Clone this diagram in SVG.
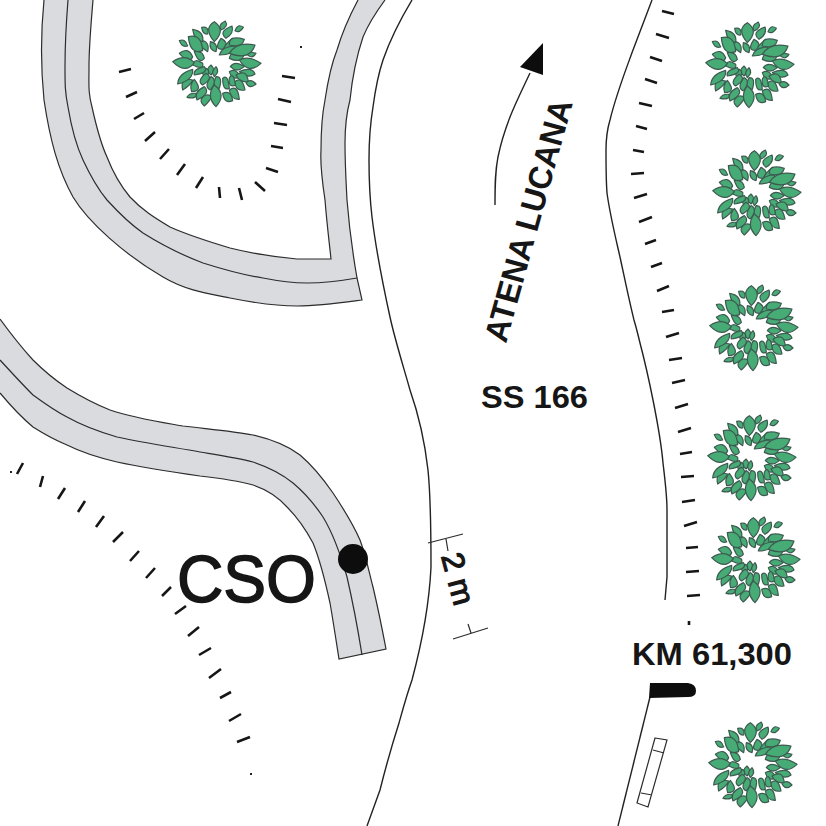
<svg xmlns="http://www.w3.org/2000/svg" xmlns:xlink="http://www.w3.org/1999/xlink" width="826" height="826" viewBox="0 0 826 826">
<style>
text{font-family:"Liberation Sans",Arial,sans-serif;fill:#161616}
.b{font-weight:bold}
.band{fill:#d9dbdf;stroke:none}
.e{fill:none;stroke:#2c2c2c;stroke-width:1.2}
.r{fill:none;stroke:#222;stroke-width:1.4}
.t{fill:none;stroke:#161616;stroke-width:2.6}
.lv path{fill:#47ab76;stroke:#3d5a50;stroke-width:3.6;stroke-linejoin:round}
</style>
<defs>
<g id="tree" class="lv" transform="scale(.3333) translate(-165,-165)">
<path d="M150,165Q166,180 150,195Q130,180 150,165Z"/>
<path d="M135,175Q151,180 135,205Q115,190 135,175Z"/>
<path d="M165,170Q177,185 160,200Q148,185 165,170Z"/>
<path d="M140,125Q112,108 115,90Q148,92 140,125Z"/>
<path d="M165,125Q143,120 148,95Q173,100 165,125Z"/>
<path d="M185,118Q157,118 180,85Q207,98 185,118Z"/>
<path d="M205,120Q170,122 215,85Q234,108 205,120Z"/>
<path d="M175,135Q182,109 222,108Q218,135 175,135Z"/>
<path d="M205,145Q213,113 250,130Q243,163 205,145Z"/>
<path d="M208,170Q221,150 250,170Q227,190 208,170Z"/>
<path d="M205,185Q222,172 240,200Q214,214 205,185Z"/>
<path d="M205,205Q215,181 225,225Q201,235 205,205Z"/>
<path d="M185,205Q201,190 205,235Q185,244 185,205Z"/>
<path d="M165,200Q186,199 175,235Q150,233 165,200Z"/>
<path d="M150,200Q171,210 148,240Q127,230 150,200Z"/>
<path d="M135,190Q160,203 125,225Q106,213 135,190Z"/>
<path d="M130,170Q145,188 100,195Q95,178 130,170Z"/>
<path d="M125,160Q130,182 95,165Q100,142 125,160Z"/>
<path d="M130,145Q115,165 100,125Q125,121 130,145Z"/>
<path d="M180,60Q170,44 193,33Q204,50 180,60Z"/>
<path d="M195,85Q170,64 213,48Q220,70 195,85Z"/>
<path d="M222,62Q230,39 247,52Q236,71 222,62Z"/>
<path d="M205,105Q203,74 250,88Q243,114 205,105Z"/>
<path d="M250,125Q263,123 285,130Q273,153 250,125Z"/>
<path d="M235,185Q272,168 282,192Q262,208 235,185Z"/>
<path d="M225,195Q257,175 262,215Q237,219 225,195Z"/>
<path d="M255,218Q270,204 285,222Q266,240 255,218Z"/>
<path d="M222,215Q243,197 252,240Q223,245 222,215Z"/>
<path d="M205,240Q230,220 235,268Q210,270 205,240Z"/>
<path d="M185,250Q210,239 215,272Q190,283 185,250Z"/>
<path d="M135,255Q168,253 130,288Q108,269 135,255Z"/>
<path d="M130,230Q151,250 108,270Q97,246 130,230Z"/>
<path d="M105,250Q109,268 78,262Q85,248 105,250Z"/>
<path d="M100,208Q128,244 92,245Q84,224 100,208Z"/>
<path d="M95,210Q90,225 65,240Q56,199 95,210Z"/>
<path d="M95,140Q85,165 55,130Q81,109 95,140Z"/>
<path d="M80,108Q63,114 55,92Q73,84 80,108Z"/>
<path d="M125,95Q100,94 95,58Q130,64 125,95Z"/>
<path d="M140,72Q125,74 122,52Q145,48 140,72Z"/>
<path d="M160,95Q126,55 160,35Q196,59 160,95Z"/>
<path d="M205,130Q227,93 282,105Q267,153 205,130Z"/>
<path d="M235,150Q263,135 300,160Q263,195 235,150Z"/>
<path d="M160,225Q198,253 165,290Q134,259 160,225Z"/>
<path d="M95,178Q98,210 50,222Q52,190 95,178Z"/>
<path d="M100,158Q73,194 35,155Q73,130 100,158Z"/>
<path d="M125,122Q87,135 82,80Q121,69 125,122Z"/>
</g>
</defs>
<rect width="826" height="826" fill="#fff"/>

<g id="roads">
<path class="band" d="M44,0C41,30 40,60 44,100C50,140 58,170 73,197C88,222 125,255 163,277C185,290 205,293 230,298C255,303 275,306 297,306C320,306 340,303 362,300L357,278C353,255 349,225 347,200C346,180 345,165 345,143C345,130 346,115 350,100C352,80 357,55 363,37C368,25 374,15 385,0L358,0C350,15 342,33 337,50C331,65 328,80 325,100C322,115 321,130 321,150C320,165 322,180 325,200C327,225 329,240 331,259L297,259C275,257 250,253 230,248C210,242 190,236 170,227C155,218 142,210 130,197C120,185 112,170 107,157C100,142 96,125 92,107C88,92 89,85 89,67C89,45 91,25 93,0Z"/>
<path class="e" d="M44,0C41,30 40,60 44,100C50,140 58,170 73,197C88,222 125,255 163,277C185,290 205,293 230,298C255,303 275,306 297,306C320,306 340,303 362,300L357,278C353,255 349,225 347,200C346,180 345,165 345,143C345,130 346,115 350,100C352,80 357,55 363,37C368,25 374,15 385,0"/>
<path class="e" d="M93,0C91,25 89,45 89,67C89,85 88,92 92,107C96,125 100,142 107,157C112,170 120,185 130,197C142,210 155,218 170,227C190,236 210,242 230,248C250,253 275,257 297,259L331,259C329,240 327,225 325,200C322,180 320,165 321,150C321,130 322,115 325,100C328,80 331,65 337,50C342,33 350,15 358,0"/>
<path class="e" d="M68,0C66,25 65,45 65,67C65,85 65,92 68,107C71,125 76,145 83,160C90,175 97,188 107,200C118,212 130,224 143,233C162,245 182,255 203,263C222,269 243,275 263,278C278,281 292,283 307,283C325,283 340,281 357,278"/>
<path class="band" d="M0,319C11,334 22,348 33,360C44,371 55,380 67,388C80,396 95,404 110,410C133,418 160,422 183,426C207,429 232,431 253,435C270,439 288,446 300,455C313,466 324,480 333,493C343,508 353,524 360,540C366,556 369,572 373,587C378,608 382,628 386,649L339,659C336,640 333,620 330,603C325,580 320,560 313,543C306,530 297,517 287,507C278,497 265,489 253,485C235,480 218,478 200,476C172,472 145,468 117,462C100,458 83,453 67,445C55,440 44,434 33,427C21,417 10,405 0,393Z"/>
<path class="e" d="M0,319C11,334 22,348 33,360C44,371 55,380 67,388C80,396 95,404 110,410C133,418 160,422 183,426C207,429 232,431 253,435C270,439 288,446 300,455C313,466 324,480 333,493C343,508 353,524 360,540C366,556 369,572 373,587C378,608 382,628 386,649L339,659C336,640 333,620 330,603C325,580 320,560 313,543C306,530 297,517 287,507C278,497 265,489 253,485C235,480 218,478 200,476C172,472 145,468 117,462C100,458 83,453 67,445C55,440 44,434 33,427C21,417 10,405 0,393"/>
<path class="e" d="M0,360C11,372 22,384 33,395C44,403 55,411 67,417C83,426 100,432 117,437C145,443 172,447 200,452C218,455 238,458 253,462C268,467 282,474 293,483C305,493 315,505 323,517C334,535 341,556 347,577C353,603 358,630 362,655"/>
<path class="r" d="M412,0C400,20 390,40 383,60C378,75 375,92 373,107C370,125 369,142 369,160C369,180 370,200 372,217C376,250 383,285 390,317C395,340 403,365 410,390C417,410 424,435 428,470C430,490 431,530 431,567C429,610 420,650 412,680C405,700 400,720 399,723C392,745 385,770 380,790L367,826"/>
<path class="r" d="M652,0C645,18 640,32 633,50C625,72 616,95 610,120C607,130 606,140 606,150C606,165 606,180 607,193C610,215 615,235 620,257C625,280 629,300 634,320C637,330 638,335 640,343C645,362 649,380 653,400C657,420 661,440 663,463C665,480 667,495 667,510L667,577L665,600"/>
<path class="r" d="M650,697L618,826"/>
</g>

<g id="kerb-ticks">
<path class="t" d="M119,72L131,69M126,97L137,92M134,119L144,113M145,141L155,132M160,159L169,149M177,175L185,164M196,188L203,177M220,198L219,187M242,200L239,188M265,191L255,182M278,172L266,168M283,148L271,146M287,125L274,123M291,102L278,99M295,78L282,76"/>
<path class="t" d="M17,474L23,463M40,487L43,476M58,499L65,488M78,512L85,501M96,527L104,516M113,542L123,532M130,561L139,551M146,578L155,568M162,596L171,587M175,614L186,606M188,636L199,627M199,655L211,648M209,678L221,669M220,698L231,692M229,721L241,714M237,742L250,737"/>
<path class="t" d="M662,11L674,14M656,34L669,38M650,57L662,61M645,79L657,83M639,103L652,106M636,126L647,129M633,150L644,152M631,174L644,173M634,198L647,194M639,222L652,217M645,244L656,240M651,267L662,263M657,291L669,286M662,312L674,310"/>
<path class="t" d="M666,337L679,333M669,360L682,358M672,383L685,380M675,408L688,404M678,432L691,428M680,454L692,452M681,477L694,476M682,502L695,500M684,526L697,522M686,548L698,547M686,572L699,571M687,596L700,595M689,621L689,625"/>
<path d="M250,773h2v2h-2zM10,471h2v2h-2zM300,46h2v2h-2z" fill="#222"/>
</g>

<g id="tree-1"><use href="#tree" x="216" y="65"/></g>
<g id="tree-2"><use href="#tree" x="749" y="66"/></g>
<g id="tree-3"><use href="#tree" x="756" y="194"/></g>
<g id="tree-4"><use href="#tree" x="753" y="329"/></g>
<g id="tree-5"><use href="#tree" x="751" y="459"/></g>
<g id="tree-6"><use href="#tree" x="755" y="561"/></g>
<g id="tree-7"><use href="#tree" x="752" y="766"/></g>

<g id="cso-marker">
<circle cx="353" cy="559" r="15" fill="#0d0d0d"/>
<text x="177" y="602" font-size="66" textLength="139" lengthAdjust="spacingAndGlyphs" stroke="#161616" stroke-width="1.5">CSO</text>
</g>

<g id="dimension">
<path class="e" d="M428,543L463,534M446,539L448,551M453,639L488,628M468,624L471,633"/>
<text transform="translate(441,556) rotate(75)" font-size="31" textLength="53" lengthAdjust="spacingAndGlyphs" stroke="#161616" stroke-width="1.2">2 m</text>
</g>

<g id="direction">
<path fill="none" stroke="#222" stroke-width="1.4" d="M495,205C495,185 495,172 498,157C501,142 505,130 510,117C516,102 523,88 530,73"/>
<path fill="#0d0d0d" d="M543,43L520,67L543,75Z"/>
<text class="b" transform="translate(506,344) rotate(-74.5)" font-size="33" textLength="250" lengthAdjust="spacingAndGlyphs">ATENA LUCANA</text>
<text class="b" x="481" y="408" font-size="31" textLength="107" lengthAdjust="spacingAndGlyphs">SS 166</text>
</g>

<g id="km-marker">
<text class="b" x="632" y="665" font-size="31" textLength="160" lengthAdjust="spacingAndGlyphs">KM 61,300</text>
<path fill="#0d0d0d" d="M650,683L688,683Q696,684 696,691Q696,697 688,697L649,698Z"/>
</g>

<g id="road-sign">
<path class="e" d="M655,738L667,740L648,807L637,803ZM653,750L664,753M641,793L652,795"/>
</g>
</svg>
